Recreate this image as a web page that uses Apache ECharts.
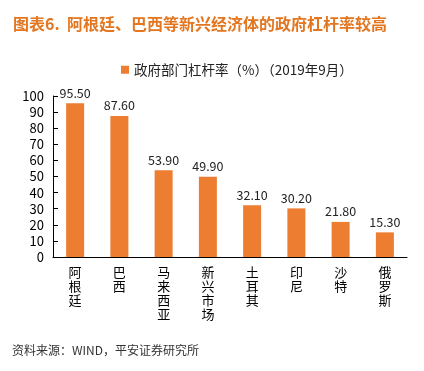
<!DOCTYPE html>
<html><head><meta charset="utf-8">
<script src="https://cdn.jsdelivr.net/npm/echarts@6/dist/echarts.min.js"></script>
<style>html,body{margin:0;padding:0;background:#fff;}#c{width:424px;height:371px;}</style>
</head><body><div id="c"></div>
<script>
const categories = ['阿根廷','巴西','马来西亚','新兴市场','土耳其','印尼','沙特','俄罗斯'];
const values = [95.50, 87.60, 53.90, 49.90, 32.10, 30.20, 21.80, 15.30];
const seriesName = '政府部门杠杆率（%）（2019年9月）';
const titleText = '图表6.  阿根廷、巴西等新兴经济体的政府杠杆率较高';
const sourceText = '资料来源：WIND，平安证券研究所';
const font = '"Noto Sans CJK SC", sans-serif';
const chart = echarts.init(document.getElementById('c'));
chart.setOption({
  animation: false,
  textStyle: {fontFamily: font},
  title: {text: titleText, left: 8, top: 11, textStyle: {color: '#E3761F', fontSize: 16, fontWeight: 'bold', fontFamily: font}},
  legend: {data: [seriesName], left: 116, top: 58, itemWidth: 8, itemHeight: 8, icon: 'rect', itemGap: 4,
    textStyle: {fontSize: 13.5, color: '#222', fontFamily: font}},
  grid: {left: 53, right: 17, top: 96, bottom: 114, containLabel: false},
  xAxis: {type: 'category', data: categories,
    axisLine: {lineStyle: {color: '#000', width: 1}},
    axisTick: {inside: true, length: 5, lineStyle: {color: '#000'}},
    axisLabel: {interval: 0, margin: 8, fontSize: 13, color: '#000', lineHeight: 14, verticalAlign: 'top',
      formatter: v => v.split('').join('\n')}},
  yAxis: {type: 'value', min: 0, max: 100, interval: 10,
    splitLine: {show: false},
    axisLine: {show: true, lineStyle: {color: '#000'}},
    axisTick: {show: true, inside: true, length: 5, lineStyle: {color: '#000'}},
    axisLabel: {fontSize: 13, color: '#000', margin: 9}},
  series: [{name: seriesName, type: 'bar', data: values, barWidth: 18,
    itemStyle: {color: '#ED7D31'},
    label: {show: true, position: 'top', fontSize: 12.5, color: '#222', distance: 4, formatter: p => p.value.toFixed(2)}}],
  graphic: [{type: 'text', left: 12, top: 344, style: {text: sourceText, fontSize: 12, fill: '#333', fontFamily: font}}]
});
</script></body></html>
